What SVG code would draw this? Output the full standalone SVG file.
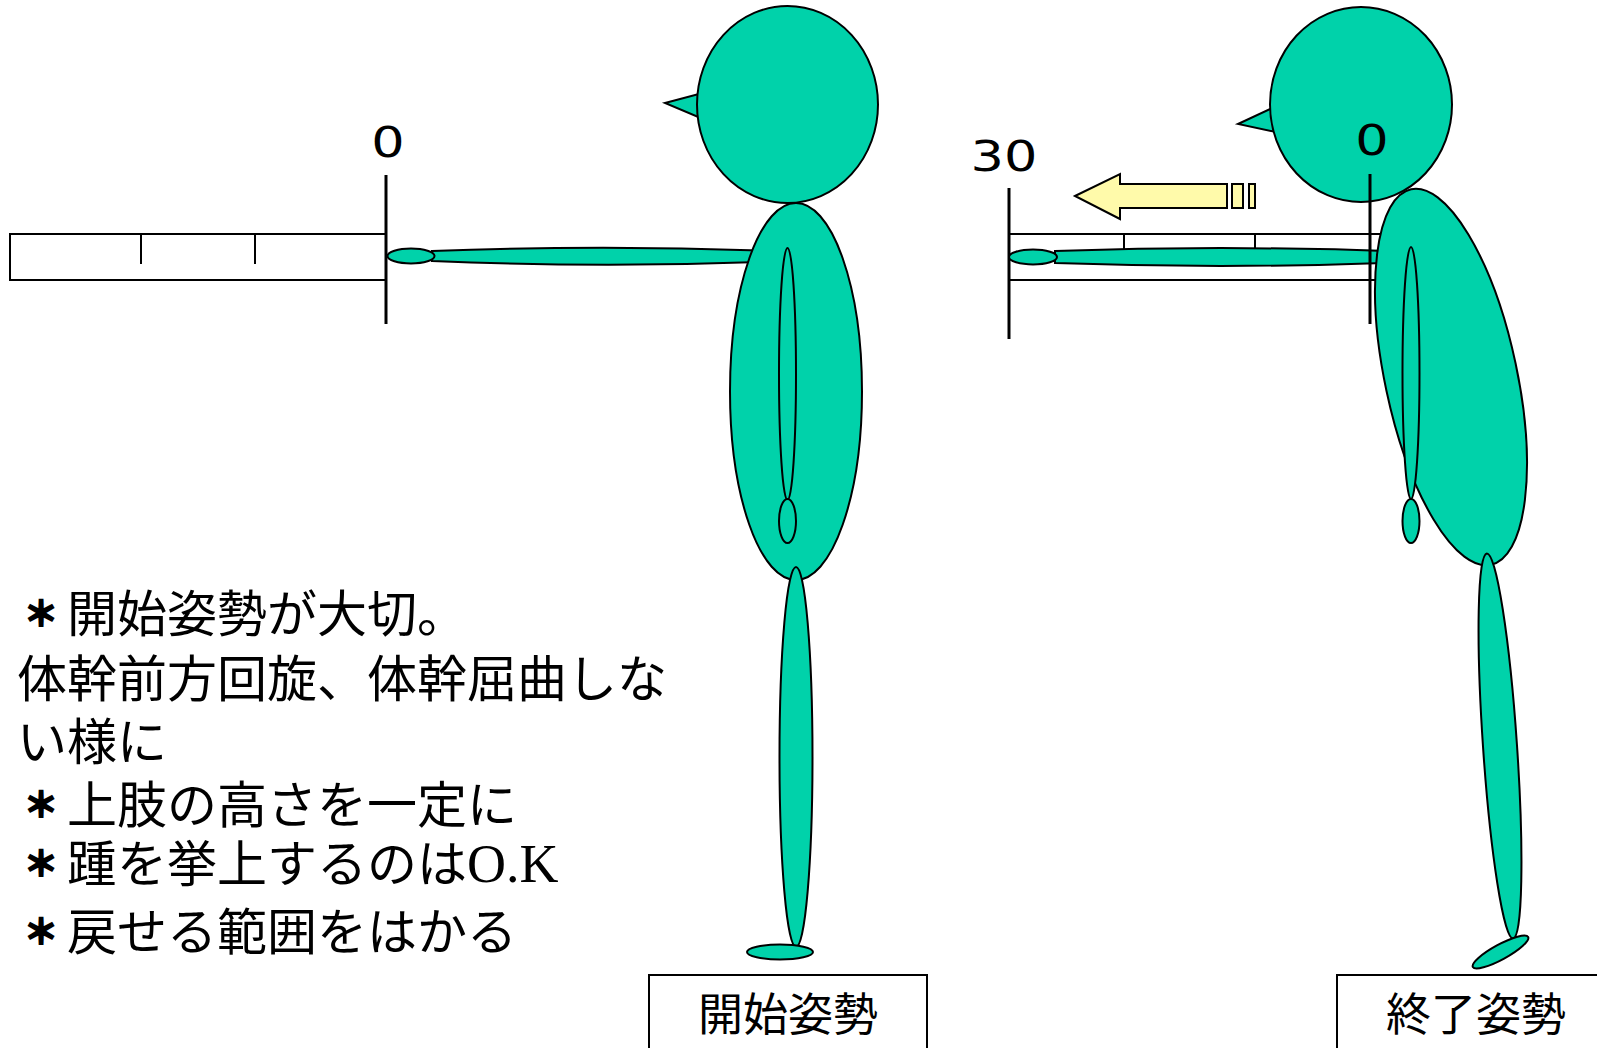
<svg xmlns="http://www.w3.org/2000/svg" width="1597" height="1048" viewBox="0 0 1597 1048">
  <style>
    .body { fill: #00D2AA; stroke: #000; stroke-width: 2; }
    .rule { fill: none; stroke: #000; stroke-width: 2; }
    .post { stroke: #000; stroke-width: 3; }
    .num { font-family: "DejaVu Sans", "Liberation Sans", sans-serif; font-size: 42px; fill: #000; text-anchor: middle; }
    .note { font-family: "Noto Sans CJK JP", "Noto Sans CJK SC", sans-serif; font-size: 50px; fill: #000; }
    .star { font-size: 34px; font-weight: bold; stroke: #000; stroke-width: 2.2; }
    .latin { font-family: "Liberation Serif", serif; font-size: 54px; }
    .tag { fill: #fff; stroke: #000; stroke-width: 2; }
    .tagtext { font-family: "Noto Sans CJK JP", "Noto Sans CJK SC", sans-serif; font-size: 45px; fill: #000; text-anchor: middle; }
    .push { fill: #FFFAAA; stroke: #000; stroke-width: 2; }
  </style>

  <rect width="1597" height="1048" fill="#fff"/>

  <!-- measuring scale, start position -->
  <g id="scale-start">
    <rect class="rule" x="10" y="234" width="376" height="46"/>
    <line class="rule" x1="141" y1="234" x2="141" y2="264"/>
    <line class="rule" x1="255" y1="234" x2="255" y2="264"/>
    <line class="post" x1="386" y1="175" x2="386" y2="324"/>
    <text class="num" transform="translate(388,157) scale(1.25,1)">0</text>
  </g>

  <!-- figure in start posture -->
  <g id="figure-start">
    <path class="body" d="M432,251 Q596,245 760,250.5 L760,262 Q596,268 432,261 Z"/>
    <ellipse class="body" cx="411" cy="256" rx="23.5" ry="7.5"/>
    <polygon class="body" points="665,103 710,91 710,122"/>
    <ellipse class="body" cx="787.5" cy="104.5" rx="90.5" ry="98.5"/>
    <ellipse class="body" cx="796" cy="391.5" rx="66" ry="188.5"/>
    <ellipse class="body" cx="787.5" cy="374" rx="8.5" ry="126"/>
    <ellipse class="body" cx="787.5" cy="521" rx="8.5" ry="22"/>
    <ellipse class="body" cx="796" cy="757" rx="16.5" ry="190"/>
    <ellipse class="body" cx="780" cy="952" rx="33" ry="7.5"/>
  </g>

  <!-- measuring scale, end position -->
  <g id="scale-end">
    <line class="rule" x1="1009" y1="234" x2="1400" y2="234"/>
    <line class="rule" x1="1009" y1="280" x2="1400" y2="280"/>
    <line class="rule" x1="1124" y1="234" x2="1124" y2="263"/>
    <line class="rule" x1="1255" y1="234" x2="1255" y2="263"/>
    <line class="post" x1="1009" y1="188" x2="1009" y2="339"/>
    <text class="num" transform="translate(1004,171) scale(1.25,1)">30</text>
  </g>

  <!-- figure in end posture (trunk leaning) -->
  <g id="figure-end">
    <path class="body" d="M1055,251 Q1228,245 1400,251.5 L1400,262.5 Q1228,269 1055,263 Z"/>
    <ellipse class="body" cx="1033" cy="257" rx="24" ry="7.5"/>
    <polygon class="body" points="1238,124 1285,102 1285,134"/>
    <ellipse class="body" cx="1361" cy="104.5" rx="91" ry="97.5"/>
    <ellipse class="body" cx="1451" cy="377" rx="66" ry="192" transform="rotate(-12 1451 377)"/>
    <ellipse class="body" cx="1411" cy="373" rx="8.5" ry="126"/>
    <ellipse class="body" cx="1411" cy="521" rx="8.5" ry="22"/>
    <ellipse class="body" cx="1500" cy="746" rx="17" ry="193" transform="rotate(-3.9 1500 746)"/>
    <ellipse class="body" cx="1500.5" cy="952" rx="31.5" ry="7.5" transform="rotate(-28.6 1500.5 952)"/>
    <line class="post" x1="1370" y1="174" x2="1370" y2="324"/>
    <text class="num" transform="translate(1372,155) scale(1.25,1)">0</text>
  </g>

  <!-- direction of reach -->
  <g id="connectors">
    <polygon class="push" points="1075,196 1120,174 1120,184 1227,184 1227,208 1120,208 1120,219"/>
    <rect class="push" x="1232" y="184" width="11" height="24"/>
    <rect class="push" x="1249" y="184" width="6" height="24"/>
  </g>

  <!-- notes; the bullet star is a smaller heavy run centred in its cell -->
  <g id="notes">
    <text class="note" x="17" y="632"><tspan class="star" dx="7" dy="-6.5">＊</tspan><tspan dx="9" dy="6.5">開始姿勢が大切。</tspan></text>
    <text class="note" x="17" y="697">体幹前方回旋、体幹屈曲しな</text>
    <text class="note" x="17" y="760">い様に</text>
    <text class="note" x="17" y="823"><tspan class="star" dx="7" dy="-6.5">＊</tspan><tspan dx="9" dy="6.5">上肢の高さを一定に</tspan></text>
    <text class="note" x="17" y="882"><tspan class="star" dx="7" dy="-6.5">＊</tspan><tspan dx="9" dy="6.5">踵を挙上するのは</tspan><tspan class="latin">O.K</tspan></text>
    <text class="note" x="17" y="950"><tspan class="star" dx="7" dy="-6.5">＊</tspan><tspan dx="9" dy="6.5">戻せる範囲をはかる</tspan></text>
  </g>

  <!-- posture labels -->
  <g id="label-start">
    <rect class="tag" x="649" y="975" width="278" height="90"/>
    <text class="tagtext" x="788" y="1031">開始姿勢</text>
  </g>
  <g id="label-end">
    <rect class="tag" x="1337" y="975" width="278" height="90"/>
    <text class="tagtext" x="1476" y="1031">終了姿勢</text>
  </g>
</svg>
